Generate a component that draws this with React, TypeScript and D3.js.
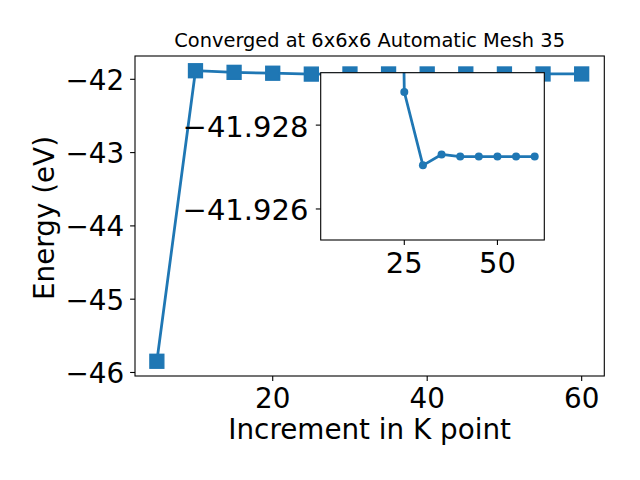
import React from "react";
import * as d3 from "d3";

const kPoints = [5, 10, 15, 20, 25, 30, 35, 40, 45, 50, 55, 60];
const energies = [-45.847, -41.883, -41.905, -41.917, -41.929, -41.927, -41.927, -41.927, -41.927, -41.927, -41.927, -41.927];

const insetK = [20, 25, 30, 35, 40, 45, 50, 55, 60];
const insetEnergies = [-41.96, -41.92879, -41.92704, -41.9273, -41.92725, -41.92725, -41.92725, -41.92725, -41.92725];

const mainXTicks = [20, 40, 60];
const mainYTicks = [-42, -43, -44, -45, -46];
const insetXTicks = [25, 50];
const insetYTicks = [-41.928, -41.926];

const titleText = "Converged at 6x6x6 Automatic Mesh 35";
const xLabel = "Increment in K point";
const yLabel = "Energy (eV)";

const C = "#1f77b4";
const FONT = "DejaVu Sans";

const fmt = (v: number, d: number) => (v < 0 ? "\u2212" : "") + Math.abs(v).toFixed(d);

export default function App() {
  const M = { l: 135, r: 604.3, t: 56, b: 376 };
  const I = { l: 320.7, r: 544.3, t: 72.7, b: 240 };

  const x = d3.scaleLinear().domain([2.17, 62.93]).range([M.l, M.r]);
  const y = d3.scaleLinear().domain([-46.048, -41.682]).range([M.b, M.t]);
  const xi = d3.scaleLinear().domain([2.56, 62.58]).range([I.l, I.r]);
  const yi = d3.scaleLinear().domain([-41.92925, -41.92526]).range([I.t, I.b]);

  const mainLine = d3.line<number>().x((_, i) => x(kPoints[i])).y((d) => y(d))(energies) || "";
  const insetLine = d3.line<number>().x((_, i) => xi(insetK[i])).y((d) => yi(d))(insetEnergies) || "";

  const tick = 4.9;
  const sq = 13.9;
  const tf = 27.8;
  const itf = 29;

  return (
    <svg width={640} height={480} style={{ position: "absolute", left: 0, top: 0 }} fontFamily={FONT}>
      <defs>
        <clipPath id="insetClip">
          <rect x={I.l} y={I.t} width={I.r - I.l} height={I.b - I.t} />
        </clipPath>
      </defs>
      <rect x={0} y={0} width={640} height={480} fill="#fff" />
      <text x={(M.l + M.r) / 2} y={47} textAnchor="middle" fontSize={19.4} fill="#000">{titleText}</text>

      {/* main data */}
      <path d={mainLine} fill="none" stroke={C} strokeWidth={2.78} strokeLinejoin="round" />
      {energies.map((e, i) => (
        <rect key={i} x={x(kPoints[i]) - sq / 2} y={y(e) - sq / 2} width={sq} height={sq} fill={C} stroke={C} strokeWidth={1.39} />
      ))}

      {/* main frame */}
      <rect x={M.l} y={M.t} width={M.r - M.l} height={M.b - M.t} fill="none" stroke="#000" strokeWidth={1.1} />
      {mainXTicks.map((t) => (
        <g key={t}>
          <line x1={x(t)} x2={x(t)} y1={M.b} y2={M.b + tick} stroke="#000" strokeWidth={1.1} />
          <text x={x(t)} y={M.b + 31.5} textAnchor="middle" fontSize={tf} fill="#000">{fmt(t, 0)}</text>
        </g>
      ))}
      {mainYTicks.map((t) => (
        <g key={t}>
          <line x1={M.l - tick} x2={M.l} y1={y(t)} y2={y(t)} stroke="#000" strokeWidth={1.1} />
          <text x={M.l - 2 * tick - 1} y={y(t) + 10.5} textAnchor="end" fontSize={tf} fill="#000">{fmt(t, 0)}</text>
        </g>
      ))}
      <text x={(M.l + M.r) / 2} y={439.3} textAnchor="middle" fontSize={27.8} fill="#000">{xLabel}</text>
      <text transform={`translate(54.3, ${(M.t + M.b) / 2 + 2}) rotate(-90)`} textAnchor="middle" fontSize={27.8} fill="#000">{yLabel}</text>

      {/* inset */}
      <rect x={I.l} y={I.t} width={I.r - I.l} height={I.b - I.t} fill="#fff" />
      <g clipPath="url(#insetClip)">
        <path d={insetLine} fill="none" stroke={C} strokeWidth={2.78} strokeLinejoin="round" />
        {insetEnergies.map((e, i) => (
          <circle key={i} cx={xi(insetK[i])} cy={yi(e)} r={4} fill={C} />
        ))}
      </g>
      <rect x={I.l} y={I.t} width={I.r - I.l} height={I.b - I.t} fill="none" stroke="#000" strokeWidth={1.1} />
      {insetXTicks.map((t) => (
        <g key={t}>
          <line x1={xi(t)} x2={xi(t)} y1={I.b} y2={I.b + tick} stroke="#000" strokeWidth={1.1} />
          <text x={xi(t)} y={I.b + 32.5} textAnchor="middle" fontSize={itf} fill="#000">{fmt(t, 0)}</text>
        </g>
      ))}
      {insetYTicks.map((t) => (
        <g key={t}>
          <line x1={I.l - tick} x2={I.l} y1={yi(t)} y2={yi(t)} stroke="#000" strokeWidth={1.1} />
          <text x={I.l - 2 * tick - 2.5} y={yi(t) + 11.5} textAnchor="end" fontSize={itf} fill="#000">{fmt(t, 3)}</text>
        </g>
      ))}
    </svg>
  );
}
